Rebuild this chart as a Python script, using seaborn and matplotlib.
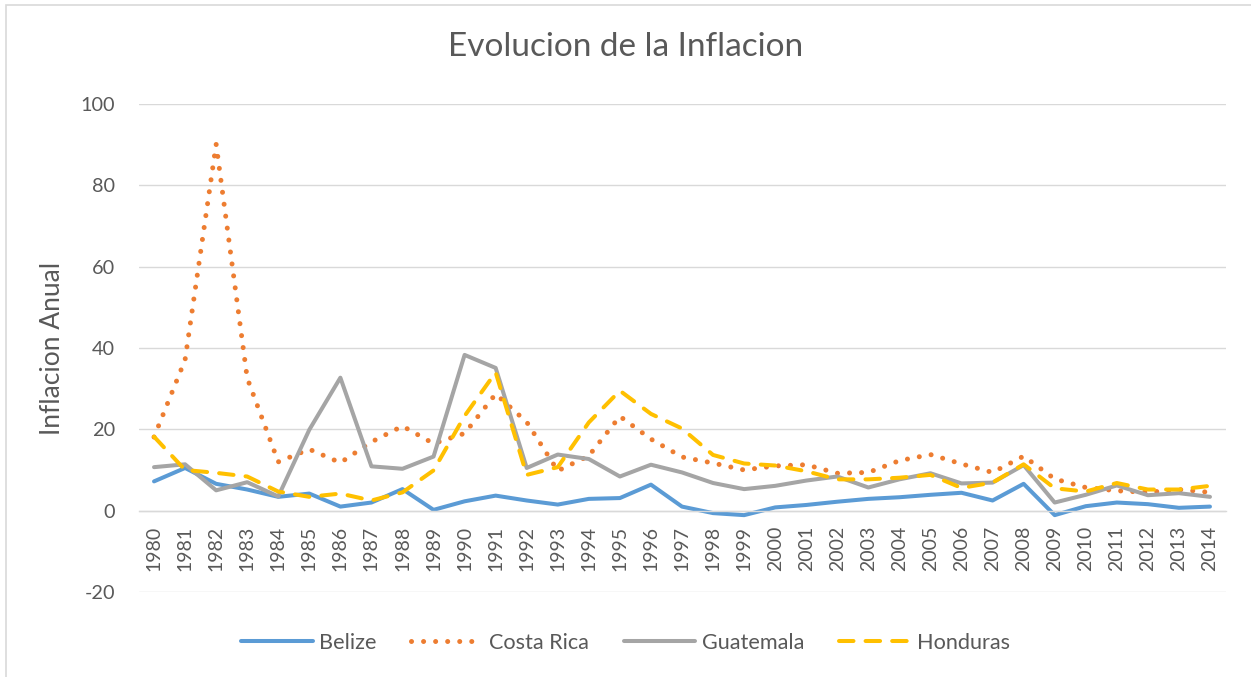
import matplotlib
matplotlib.use("Agg")
import matplotlib.pyplot as plt
from matplotlib.patches import Rectangle
from matplotlib.lines import Line2D
import seaborn as sns
import pandas as pd

years = list(range(1980, 2015))
belize = [7.2, 10.5, 6.6, 5.2, 3.4, 4.2, 1.0, 2.0, 5.3, 0.2,
          2.3, 3.7, 2.5, 1.5, 2.9, 3.1, 6.4, 1.0, -0.6, -1.1,
          0.8, 1.4, 2.2, 2.9, 3.3, 3.9, 4.4, 2.5, 6.6, -1.1,
          1.1, 2.0, 1.6, 0.7, 1.0]
costa_rica = [18.1, 37.1, 90.1, 32.6, 12.0, 15.1, 11.8, 16.9, 20.8, 16.5,
              19.0, 28.7, 21.8, 9.8, 13.5, 23.2, 17.6, 13.2, 11.7, 10.0,
              11.0, 11.3, 9.2, 9.4, 12.3, 13.8, 11.5, 9.4, 13.4, 7.8,
              5.7, 4.9, 4.5, 5.2, 4.5]
guatemala = [10.7, 11.4, 5.0, 7.0, 3.5, 19.9, 32.7, 10.9, 10.3, 13.3,
             38.3, 35.1, 10.5, 13.8, 12.7, 8.4, 11.3, 9.4, 6.8, 5.3,
             6.1, 7.4, 8.4, 5.7, 7.7, 9.2, 6.7, 6.9, 11.2, 2.0,
             3.9, 6.2, 3.8, 4.3, 3.4]
honduras = [18.2, 10.0, 9.3, 8.4, 4.7, 3.4, 4.2, 2.5, 4.5, 9.9,
            23.3, 34.0, 8.8, 10.7, 21.7, 29.5, 23.8, 20.2, 13.7, 11.6,
            11.1, 9.7, 7.7, 7.7, 8.1, 8.8, 5.6, 6.9, 11.4, 5.5,
            4.7, 6.8, 5.2, 5.2, 6.1]
series_names = ["Belize", "Costa Rica", "Guatemala", "Honduras"]
title = "Evolucion de la Inflacion"
ylabel = "Inflacion Anual"
yticks = [-20, 0, 20, 40, 60, 80, 100]

df = pd.DataFrame({
    "year": years * 4,
    "value": belize + costa_rica + guatemala + honduras,
    "country": sum([[n] * len(years) for n in series_names], []),
})

colors = {"Belize": "#5B9BD5", "Costa Rica": "#ED7D31",
          "Guatemala": "#A5A5A5", "Honduras": "#FFC000"}
dashes = {"Belize": "", "Costa Rica": (0.01, 2.4),
          "Guatemala": "", "Honduras": (3.6, 3.0)}
widths = {"Belize": 2.9, "Costa Rica": 3.6, "Guatemala": 2.9, "Honduras": 2.9}

sns.set_style("white")
plt.rcParams["font.family"] = ["Lato", "DejaVu Sans"]
plt.rcParams["axes.unicode_minus"] = False
text_color = "#595959"

fig = plt.figure(figsize=(12.51, 6.77), dpi=100)
ax = fig.add_axes([138.5 / 1251, 1 - 592 / 677, 1087 / 1251, 488 / 677])

for name in series_names:
    sub = df[df["country"] == name]
    sns.lineplot(data=sub, x="year", y="value", ax=ax, color=colors[name],
                 linewidth=widths[name], legend=False, errorbar=None)
    ln = ax.lines[-1]
    if dashes[name]:
        ln.set_dashes(dashes[name])
    ln.set_dash_capstyle("round")
    ln.set_solid_capstyle("round")
    ln.set_solid_joinstyle("round")

ax.set_xlim(1979.5, 2014.5)
ax.set_ylim(-20, 100)
ax.grid(axis="y", color="#D9D9D9", linewidth=1.0)
ax.set_axisbelow(True)
for s in ["top", "right", "left"]:
    ax.spines[s].set_visible(False)
ax.spines["bottom"].set_position(("data", 0))
ax.spines["bottom"].set_color("#D9D9D9")
ax.spines["bottom"].set_linewidth(1.0)
ax.set_yticks(yticks)
ax.set_xticks(years)
ax.set_xticklabels([str(y) for y in years])
ax.tick_params(axis="x", length=0, pad=11, labelsize=14, labelcolor=text_color,
               labelrotation=90)
ax.tick_params(axis="y", length=0, pad=17, labelsize=14.3, labelcolor=text_color)
ax.set_xlabel("")
ax.set_ylabel(ylabel, fontsize=19, color=text_color)
ax.yaxis.set_label_coords(-73.5 / 1087, 0.5)

fig.text(0.5, 1 - 56 / 677, title, ha="center", va="baseline",
         fontsize=24, color=text_color)

handles = []
for name in series_names:
    h = Line2D([0], [0], color=colors[name], linewidth=widths[name],
               solid_capstyle="round", dash_capstyle="round")
    if dashes[name]:
        h.set_dashes(dashes[name])
    handles.append(h)
fig.legend(handles, series_names, loc="center", bbox_to_anchor=(0.5, 1 - 643 / 677),
           ncol=4, frameon=False, fontsize=15.6, labelcolor=text_color,
           handlelength=3.3, columnspacing=1.6, handletextpad=0.3)

fig.patches.append(Rectangle((6 / 1251, -0.1), 1.2, 1 - 5 / 677 + 0.1,
                             transform=fig.transFigure, fill=False,
                             edgecolor="#D9D9D9", linewidth=1.2))

fig.savefig("out.png", dpi=100)
